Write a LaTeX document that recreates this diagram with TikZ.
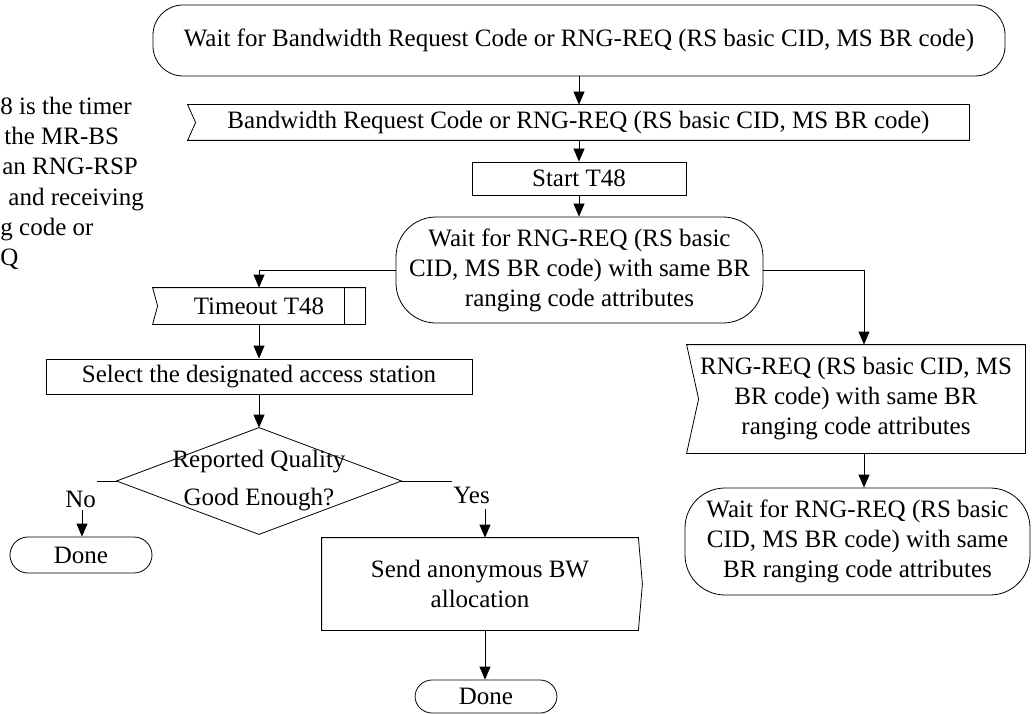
\documentclass[tikz,border=0pt]{standalone}
\usepackage{fontspec}
\setmainfont{Liberation Serif}
\usetikzlibrary{arrows.meta,calc}
\begin{document}
\begin{tikzpicture}[x=1pt,y=-1pt,
  every node/.style={font=\fontsize{25}{30}\selectfont, inner sep=0pt},
  box/.style={draw, rectangle, align=center},
  term/.style={draw, rectangle, rounded corners=#1, align=center},
  plain/.style={rectangle, align=center},
  arr/.style={-{Triangle[length=13pt,width=11pt]}},
  line width=0.8pt
]
\useasboundingbox (0,0) rectangle (1033,714);

% left note (cut off in the reference)
\node[anchor=base west] (n1) at (0,115) {8 is the timer};
\node[anchor=base west] (n2) at (4,145) {the MR-BS};
\node[anchor=base west] (n3) at (2,175) {an RNG-RSP};
\node[anchor=base west] (n4) at (8,205) {and receiving};
\node[anchor=base west] (n5) at (0,235) {g code or};
\node[anchor=base west] (n6) at (0,265) {Q};

% main column
\node[term=30pt, minimum width=852pt, minimum height=71pt] (t1) at (579,40.5)
  {Wait for Bandwidth Request Code or RNG-REQ (RS basic CID, MS BR code)};
\node[plain, minimum width=781pt, minimum height=35pt] (s1) at (578.5,122.5)
  {Bandwidth Request Code or RNG-REQ (RS basic CID, MS BR code)};
\draw (s1.north west) -- (s1.north east) -- (s1.south east) -- (s1.south west)
  -- ($(s1.west)+(8,0)$) -- cycle;
\node[box, minimum width=214pt, minimum height=33pt] (st) at (579,178.5) {Start T48};
\node[term=40pt, minimum width=367pt, minimum height=106pt] (w2) at (579.5,270)
  {Wait for RNG-REQ (RS basic\\CID, MS BR code) with same BR\\ranging code attributes};

\draw[arr] (t1.south) -- (t1.south |- s1.north);
\draw[arr] (s1.south -| st.north) -- (st.north);
\draw[arr] (st.south) -- (st.south |- w2.north);

% left branch
\node[plain, minimum width=212pt, minimum height=36pt] (to) at (259,306) {Timeout T48};
\draw (to.north west) -- (to.north east) -- (to.south east) -- (to.south west)
  -- ($(to.west)+(5,0)$) -- cycle;
\draw ($(to.north east)+(-21,0)$) -- ($(to.south east)+(-21,0)$);
\node[box, minimum width=426pt, minimum height=35pt] (sel) at (259,376.5)
  {Select the designated access station};
\node[plain, minimum width=284pt, minimum height=106pt,
  font=\fontsize{25}{38}\selectfont] (dm) at (259,481) {Reported Quality\\Good Enough?};
\draw (dm.north) -- (dm.east) -- (dm.south) -- (dm.west) -- cycle;

\draw[arr] (w2.west) -| (to.north);
\draw[arr] (to.south) -- (to.south |- sel.north);
\draw[arr] (sel.south -| to.south) -- (to.south |- dm.north);

% No
\coordinate (nl) at (97,481);
\draw (dm.west) -- (nl);
\node[anchor=north west] (no) at (65,491) {No};
\coordinate (na) at (82,510);
\node[term=18pt, minimum width=142pt, minimum height=36pt] (d1) at (81,555) {Done};
\draw[arr] (na) -- (na |- d1.north);

% Yes
\coordinate (yl) at (452,481);
\draw (dm.east) -- (yl);
\node[anchor=north west] (yes) at (453,487) {Yes};
\coordinate (ya) at (485,509);
\node[plain, minimum width=316pt, minimum height=92pt] (sb) at (480,584)
  {Send anonymous BW\\allocation};
\draw (sb.north west) -- (sb.north east) -- ($(sb.east)+(4,0)$) -- (sb.south east)
  -- (sb.south west) -- cycle;
\draw[arr] (ya) -- (ya |- sb.north);
\node[term=17pt, minimum width=142pt, minimum height=33pt] (d2) at (486,696.5) {Done};
\draw[arr] (sb.south -| ya) -- (d2.north -| ya);

% right branch
\coordinate (rc) at (864,270);
\node[plain, minimum width=338pt, minimum height=108pt] (s2) at (856,399)
  {RNG-REQ (RS basic CID, MS\\BR code) with same BR\\ranging code attributes};
\draw (s2.north west) -- (s2.north east) -- (s2.south east) -- (s2.south west)
  -- ($(s2.west)+(12,0)$) -- cycle;
\node[term=40pt, minimum width=345pt, minimum height=107pt] (w3) at (857.5,541.5)
  {Wait for RNG-REQ (RS basic\\CID, MS BR code) with same\\BR ranging code attributes};
\draw[arr] (w2.east) -- (rc) -- (rc |- s2.north);
\draw[arr] (s2.south -| rc) -- (w3.north -| rc);
\end{tikzpicture}
\end{document}
